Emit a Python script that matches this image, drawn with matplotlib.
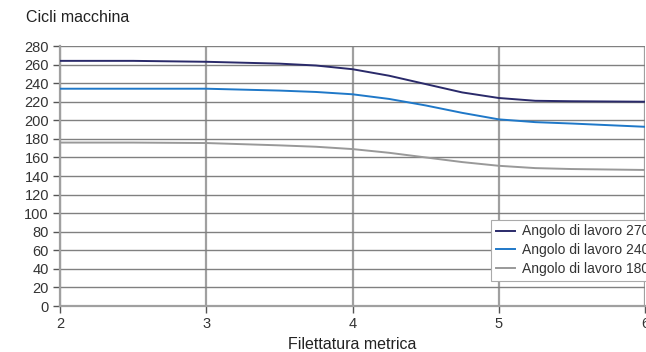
import numpy as np
import matplotlib.pyplot as plt

plt.rcParams['font.family'] = ['Liberation Sans', 'DejaVu Sans']

# filettatura metrica
x = [2, 2.5, 3, 3.5, 3.75, 4, 4.25, 4.5, 4.75, 5, 5.25, 5.5, 6]
y270 = [264, 264, 263, 261, 259, 255, 248, 239, 230, 224, 221, 220.5, 220]
y240 = [234, 234, 234, 232, 230.5, 228, 223, 216, 208, 201, 198, 196.5, 193]
y180 = [176, 176, 175.5, 173, 171.5, 169, 165, 160, 155, 151, 148.5, 147.5, 146.5]
labels = ["Angolo di lavoro 270°", "Angolo di lavoro 240°", "Angolo di lavoro 180°"]
colors = ["#2a2a6a", "#1f78c8", "#999999"]

fig = plt.figure(figsize=(6.46, 3.52), dpi=100)
ax = fig.add_axes([60/646, 46/352, 585/646, 260/352])

for yy, lab, c in zip([y270, y240, y180], labels, colors):
    ax.plot(x, yy, color=c, lw=1.4, label=lab, zorder=3)

ax.set_xlim(2, 6)
ax.set_ylim(0, 280)
ax.set_xticks([2, 3, 4, 5, 6])
ax.set_yticks(np.arange(0, 281, 20))
ax.grid(axis='y', color='#808080', lw=1.0)
ax.grid(axis='x', color='#a0a0a0', lw=1.6)
ax.set_axisbelow(True)
for s in ['top', 'right']:
    ax.spines[s].set_visible(False)
for s in ['left', 'bottom']:
    ax.spines[s].set_color('#a0a0a0')
    ax.spines[s].set_linewidth(1.6)
ax.tick_params(colors='#555555', labelcolor='#333333', labelsize=10.5, length=5, width=1, pad=3)

ax.set_xlabel("Filettatura metrica", fontsize=11.5, color='#222222', labelpad=4)
fig.text(26/646, 1 - 18/352, "Cicli macchina", fontsize=11.5, color='#222222', va='center')

leg = ax.legend(loc='lower left', bbox_to_anchor=(0.737, 0.096), borderaxespad=0,
                fontsize=10, frameon=True, fancybox=False, framealpha=1,
                edgecolor='#aaaaaa', handlelength=1.4, borderpad=0.35,
                labelspacing=0.35, handletextpad=0.5)
leg.get_frame().set_linewidth(0.8)
for t in leg.get_texts():
    t.set_color('#333333')

fig.savefig("out.png", dpi=100)
